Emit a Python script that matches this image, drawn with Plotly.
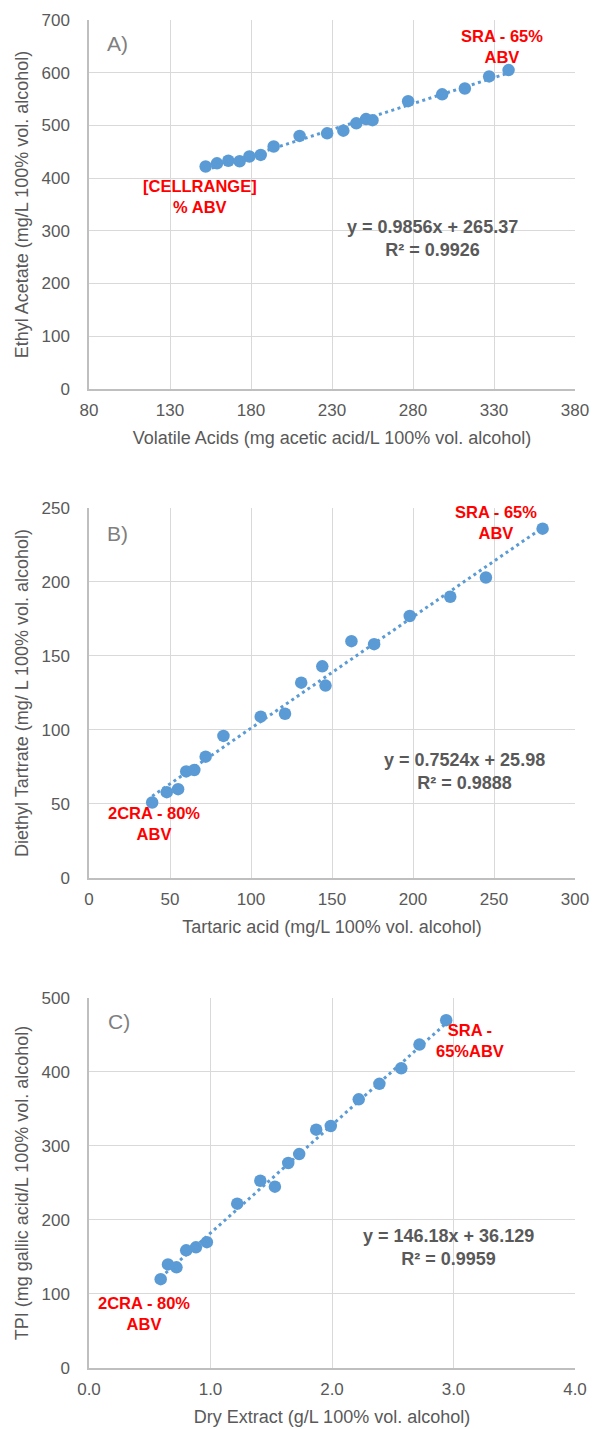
import plotly.graph_objects as go

# ---------------- data ----------------
A_x = [152, 159, 166, 173, 179, 186, 194, 210, 227, 237, 245, 251, 255, 277, 298, 312, 327, 339]
A_y = [422, 428, 433, 432, 441, 444, 460, 480, 485, 490, 504, 512, 510, 546, 559, 570, 593, 605]
A_fit = [0.9856, 265.37]

B_x = [39, 48, 55, 60, 65, 72, 83, 106, 121, 131, 144, 146, 162, 176, 198, 223, 245, 280]
B_y = [51, 58, 60, 72, 73, 82, 96, 109, 111, 132, 143, 130, 160, 158, 177, 190, 203, 236]
B_fit = [0.7524, 25.98]

C_x = [0.59, 0.65, 0.72, 0.80, 0.88, 0.97, 1.22, 1.41, 1.53, 1.64, 1.73, 1.87, 1.99, 2.22, 2.39, 2.57, 2.72, 2.94]
C_y = [120, 140, 136, 159, 163, 170, 222, 253, 245, 277, 289, 322, 327, 363, 384, 405, 437, 470]
C_fit = [146.18, 36.129]

panel_labels = ["A)", "B)", "C)"]
x_titles = ["Volatile Acids (mg acetic acid/L 100% vol. alcohol)",
            "Tartaric acid (mg/L 100% vol. alcohol)",
            "Dry Extract (g/L 100% vol. alcohol)"]
y_titles = ["Ethyl Acetate (mg/L 100% vol. alcohol)",
            "Diethyl Tartrate (mg/ L 100% vol. alcohol)",
            "TPI (mg gallic acid/L 100% vol. alcohol)"]
equations = ["y = 0.9856x + 265.37<br>R² = 0.9926",
             "y = 0.7524x + 25.98<br>R² = 0.9888",
             "y = 146.18x + 36.129<br>R² = 0.9959"]
hi_labels = ["SRA - 65%<br>ABV", "SRA - 65%<br>ABV", "SRA -<br>65%ABV"]
lo_labels = ["[CELLRANGE]<br>% ABV", "2CRA - 80%<br>ABV", "2CRA - 80%<br>ABV"]

# ---------------- style ----------------
BLUE = "#5B9BD5"
GREY = "#595959"
GRID = "#d9d9d9"
AXIS = "#bfbfbf"
RED = "#ff0000"
FONT = "Liberation Sans, Arial, sans-serif"


def bold(t):
    return "<b>" + t.replace("<br>", "</b><br><b>") + "</b>"


panels = [
    dict(x=A_x, y=A_y, fit=A_fit, xr=[80, 380], xd=50, yr=[0, 700], yd=100, xfmt="",
         dom=[0.7263, 1.0], eq=(292, 285), hi=(335, 650), lo=(148.5, 365), lab=(90, 656)),
    dict(x=B_x, y=B_y, fit=B_fit, xr=[0, 300], xd=50, yr=[0, 250], yd=50, xfmt="",
         dom=[0.3635, 0.638], eq=(232, 72), hi=(251, 240), lo=(40.3, 37), lab=(9.9, 233)),
    dict(x=C_x, y=C_y, fit=C_fit, xr=[0, 4], xd=1, yr=[0, 500], yd=100, xfmt=".1f",
         dom=[0.0, 0.2745], eq=(2.955, 163.5), hi=(3.133, 442), lo=(0.456, 74), lab=(0.14, 467.6)),
]

fig = go.Figure()
annotations = []
for i, p in enumerate(panels):
    n = "" if i == 0 else str(i + 1)
    xa, ya = "x" + n, "y" + n
    x0, x1 = min(p["x"]), max(p["x"])
    m, b = p["fit"]
    fig.add_trace(go.Scatter(x=[x0, x1], y=[m * x0 + b, m * x1 + b], mode="lines",
                             line=dict(color=BLUE, width=3, dash="3px,3.5px"),
                             xaxis=xa, yaxis=ya, hoverinfo="skip", showlegend=False))
    fig.add_trace(go.Scatter(x=p["x"], y=p["y"], mode="markers",
                             marker=dict(color=BLUE, size=12.5, line=dict(width=0)),
                             xaxis=xa, yaxis=ya, showlegend=False))
    axcommon = dict(showgrid=True, gridcolor=GRID, gridwidth=1.3, showline=True, linecolor=AXIS,
                    linewidth=1.5, zeroline=False, ticks="outside", tickcolor="rgba(0,0,0,0)",
                    automargin=False,
                    tickfont=dict(family=FONT, size=17, color=GREY),
                    title_font=dict(family=FONT, size=18, color=GREY))
    fig.update_layout(**{
        "xaxis" + n: dict(axcommon, range=p["xr"], dtick=p["xd"], tick0=p["xr"][0], ticklen=5,
                          tickformat=p["xfmt"], anchor=ya, domain=[0, 1],
                          title=dict(text=x_titles[i], standoff=12)),
        "yaxis" + n: dict(axcommon, range=p["yr"], dtick=p["yd"], ticklen=14, anchor=xa,
                          domain=p["dom"], title=dict(text=y_titles[i], standoff=8)),
    })
    annotations += [
        dict(x=p["eq"][0], y=p["eq"][1], xref=xa, yref=ya, text=bold(equations[i]), showarrow=False,
             font=dict(family=FONT, size=18, color=GREY), align="center"),
        dict(x=p["hi"][0], y=p["hi"][1], xref=xa, yref=ya, text=bold(hi_labels[i]),
             showarrow=False, font=dict(family=FONT, size=16.5, color=RED), align="center"),
        dict(x=p["lo"][0], y=p["lo"][1], xref=xa, yref=ya, text=bold(lo_labels[i]),
             showarrow=False, font=dict(family=FONT, size=16.5, color=RED), align="center"),
        dict(x=p["lab"][0], y=p["lab"][1], xref=xa, yref=ya, text=panel_labels[i], showarrow=False,
             xanchor="left", font=dict(family=FONT, size=21, color="#7f7f7f")),
    ]

fig.update_layout(width=593, height=1429, margin=dict(l=89, r=18, t=20, b=61),
                  paper_bgcolor="white", plot_bgcolor="white", showlegend=False,
                  annotations=annotations, font=dict(family=FONT, color=GREY))

fig.write_html("out.html", config={"displayModeBar": False},
               post_script="document.body.style.margin='0';document.body.style.overflow='hidden';")
